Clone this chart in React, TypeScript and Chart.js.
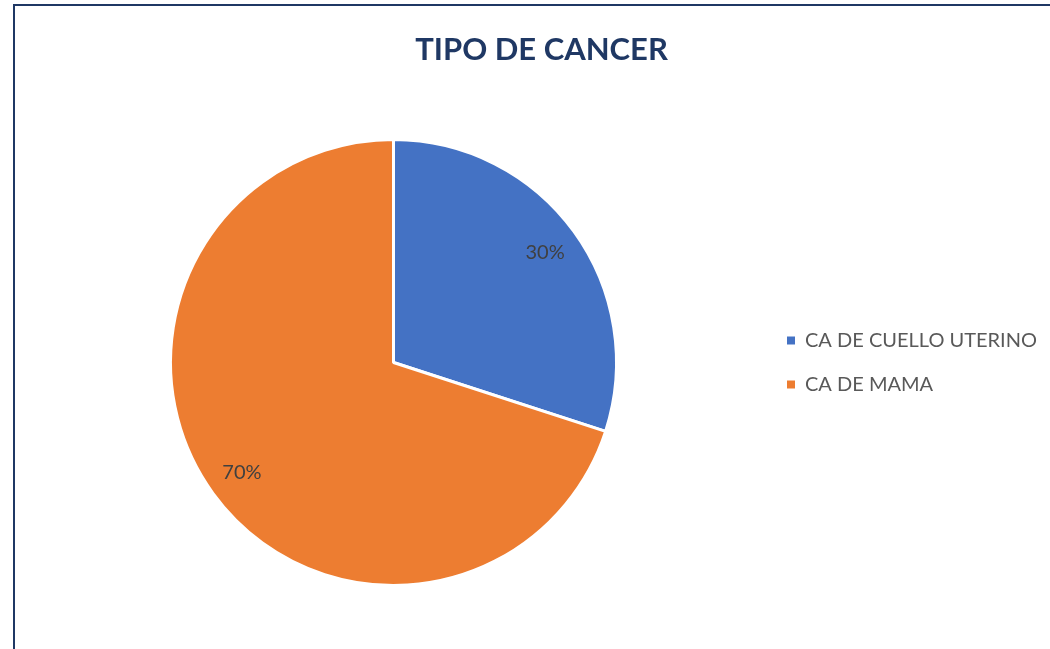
import React, { useEffect, useRef } from "react";
import { Chart, registerables } from "chart.js";

Chart.register(...registerables);

const TITLE = "TIPO DE CANCER";
const CATEGORIES = ["CA DE CUELLO UTERINO", "CA DE MAMA"];
const VALUES = [30, 70];
const COLORS = ["#4472C4", "#ED7D31"];

const W = 1050;
const H = 649;

const pieLabels = {
  id: "pieLabels",
  afterDatasetsDraw(chart: any) {
    const ctx = chart.ctx;
    const meta = chart.getDatasetMeta(0);
    const data = chart.data.datasets[0].data as number[];
    const total = data.reduce((a, b) => a + b, 0);
    ctx.save();
    ctx.font = "20px Lato";
    ctx.fillStyle = "#404040";
    ctx.textAlign = "center";
    ctx.textBaseline = "middle";
    meta.data.forEach((el: any, i: number) => {
      const p = el.getProps(["x", "y", "startAngle", "endAngle", "outerRadius"], true);
      const mid = (p.startAngle + p.endAngle) / 2;
      const r = p.outerRadius * 0.84;
      const x = p.x + Math.cos(mid) * r;
      const y = p.y + Math.sin(mid) * r;
      ctx.fillText(Math.round((data[i] / total) * 100) + "%", x, y);
    });
    ctx.restore();
  },
};

export default function App() {
  const ref = useRef<HTMLCanvasElement | null>(null);
  useEffect(() => {
    if (!ref.current) return;
    const chart = new Chart(ref.current, {
      type: "pie",
      data: {
        labels: CATEGORIES,
        datasets: [
          {
            data: VALUES,
            backgroundColor: COLORS,
            borderColor: "#FFFFFF",
            borderWidth: 3,
          },
        ],
      },
      options: {
        responsive: false,
        animation: false,
        devicePixelRatio: 1,
        layout: { padding: { left: 24, right: 3, top: 138, bottom: 62 } },
        plugins: {
          title: { display: false },
          legend: {
            position: "right",
            fullSize: false,
            labels: {
              boxWidth: 8,
              boxHeight: 8,
              padding: 24,
              color: "#595959",
              font: { family: "Lato", size: 20 },
              generateLabels: (c: any) =>
                (Chart.overrides as any).pie.plugins.legend.labels
                  .generateLabels(c)
                  .map((l: any) => ({ ...l, lineWidth: 0, strokeStyle: l.fillStyle })),
            },
          },
          tooltip: { enabled: false },
        },
      },
      plugins: [pieLabels],
    });
    return () => chart.destroy();
  }, []);

  return (
    <div
      style={{
        position: "fixed",
        left: 0,
        top: 0,
        width: W,
        height: H,
        overflow: "hidden",
        background: "#FFFFFF",
      }}
    >
      <canvas
        ref={ref}
        width={W}
        height={H}
        style={{ position: "absolute", left: 0, top: 0, width: W, height: H }}
      />
      <div
        style={{
          position: "absolute",
          left: 0,
          top: 30,
          width: 1083,
          textAlign: "center",
          fontFamily: "Lato",
          fontWeight: "bold",
          fontSize: 31,
          lineHeight: "37.2px",
          color: "#1F3864",
          whiteSpace: "nowrap",
        }}
      >
        {TITLE}
      </div>
      <div
        style={{
          position: "absolute",
          left: 13,
          top: 4,
          width: 1200,
          height: 800,
          border: "2px solid #1F3864",
          boxSizing: "border-box",
          pointerEvents: "none",
        }}
      />
    </div>
  );
}
